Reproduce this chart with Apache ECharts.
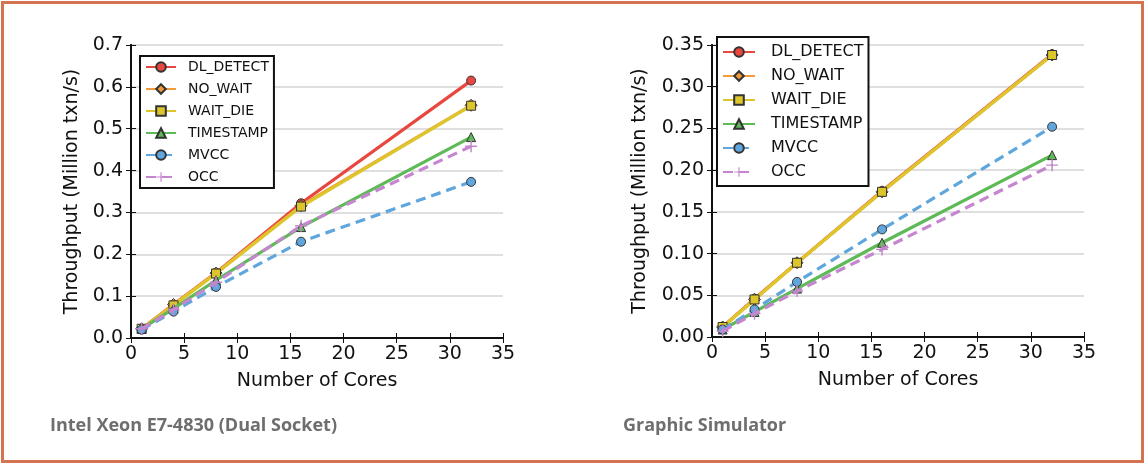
<!DOCTYPE html>
<html>
<head>
<meta charset="utf-8">
<script src="https://cdn.jsdelivr.net/npm/echarts@6/dist/echarts.min.js"></script>
<style>
  html, body { margin: 0; padding: 0; background: #fff; }
  #chart { position: absolute; left: 0; top: 0; width: 1147px; height: 463px; }
  #frame { position: absolute; left: 1px; top: 1px; width: 1137px; height: 456px; border: 3px solid #d4734f; pointer-events: none; }
</style>
</head>
<body>
<div id="chart"></div>
<div id="frame"></div>
<script>
// x values (number of cores)
const cores = [1, 4, 8, 16, 32]
const names = ['DL_DETECT', 'NO_WAIT', 'WAIT_DIE', 'TIMESTAMP', 'MVCC', 'OCC']

// Intel Xeon E7-4830 (Dual Socket)
const xeonDlDetect = [0.022, 0.080, 0.156, 0.322, 0.615]
const xeonNoWait = [0.022, 0.080, 0.155, 0.316, 0.556]
const xeonWaitDie = [0.022, 0.078, 0.154, 0.314, 0.555]
const xeonTimestamp = [0.022, 0.070, 0.138, 0.265, 0.480]
const xeonMvcc = [0.020, 0.063, 0.122, 0.230, 0.373]
const xeonOcc = [0.022, 0.068, 0.133, 0.268, 0.458]

// Graphic Simulator
const simDlDetect = [0.012, 0.046, 0.089, 0.175, 0.339]
const simNoWait = [0.012, 0.045, 0.089, 0.174, 0.338]
const simWaitDie = [0.012, 0.045, 0.089, 0.174, 0.338]
const simTimestamp = [0.009, 0.030, 0.058, 0.113, 0.218]
const simMvcc = [0.009, 0.033, 0.066, 0.129, 0.252]
const simOcc = [0.007, 0.028, 0.055, 0.105, 0.206]

const plus = 'path://M4.4,0 L5.6,0 L5.6,4.4 L10,4.4 L10,5.6 L5.6,5.6 L5.6,10 L4.4,10 L4.4,5.6 L0,5.6 L0,4.4 L4.4,4.4 Z'
const styles = [
  { color: '#e8473f', symbol: 'circle', dashed: false },
  { color: '#f39a3c', symbol: 'diamond', dashed: false },
  { color: '#dcc62c', symbol: 'rect', dashed: false },
  { color: '#5eb957', symbol: 'triangle', dashed: false },
  { color: '#5ea6dc', symbol: 'circle', dashed: true },
  { color: '#c585cf', symbol: plus, dashed: true }
]

const font = 'DejaVu Sans'

function makeSeries(values, idx) {
  return values.map((vals, i) => {
    const s = styles[i]
    const isPlus = s.symbol === plus
    return {
      name: names[i],
      type: 'line',
      xAxisIndex: idx * 2,
      yAxisIndex: idx * 2,
      data: cores.map((c, k) => [c, vals[k]]),
      symbol: s.symbol,
      symbolSize: isPlus ? 12 : (s.symbol === 'diamond' ? 12 : 9),
      lineStyle: { color: s.color, width: 3.2, type: s.dashed ? [10, 6] : 'solid' },
      itemStyle: { color: s.color, borderColor: isPlus ? s.color : '#333', borderWidth: isPlus ? 0 : 1 },
      z: 10 + i
    }
  })
}

function axesFor(gridIndex, yMax, yStep, decimals) {
  const frame = { show: true, lineStyle: { color: '#111', width: 2 } }
  const xs = [
    { type: 'value', gridIndex, min: 0, max: 35, interval: 5, position: 'bottom',
      axisLine: frame, axisTick: { inside: true, length: 5, lineStyle: { color: '#111' } },
      axisLabel: { color: '#111', fontSize: 19, fontFamily: font, margin: 7 },
      splitLine: { show: false },
      name: 'Number of Cores', nameLocation: 'middle', nameGap: 34,
      nameTextStyle: { color: '#111', fontSize: 19, fontFamily: font } },
    { type: 'value', gridIndex, min: 0, max: 35, interval: 5, position: 'top',
      axisLine: frame, axisTick: { inside: true, length: 5, lineStyle: { color: '#111' } },
      axisLabel: { show: false }, splitLine: { show: false } }
  ]
  const ys = [
    { type: 'value', gridIndex, min: 0, max: yMax, interval: yStep, position: 'left',
      axisLine: frame, axisTick: { inside: true, length: 5, lineStyle: { color: '#111' } },
      axisLabel: { color: '#111', fontSize: 19, fontFamily: font, margin: 8, formatter: v => v.toFixed(decimals) },
      splitLine: { show: true, lineStyle: { color: '#d4d4d4', width: 1.5 } },
      name: 'Throughput (Million txn/s)', nameLocation: 'middle', nameGap: decimals === 1 ? 49 : 62,
      nameTextStyle: { color: '#111', fontSize: 19, fontFamily: font } },
    { type: 'value', gridIndex, min: 0, max: yMax, interval: yStep, position: 'right',
      axisLine: frame, axisTick: { inside: true, length: 5, lineStyle: { color: '#111' } },
      axisLabel: { show: false }, splitLine: { show: false } }
  ]
  return { xs, ys }
}

const left = axesFor(0, 0.7, 0.1, 1)
const right = axesFor(1, 0.35, 0.05, 2)

const legendBase = {
  orient: 'vertical',
  data: names,
  backgroundColor: '#fff',
  borderColor: '#111',
  borderWidth: 2,
  borderRadius: 0,
  itemHeight: 12,
  z: 20
}

const chart = echarts.init(document.getElementById('chart'))
chart.setOption({
  animation: false,
  title: [
    { text: 'Intel Xeon E7-4830 (Dual Socket)', left: 45, top: 412,
      textStyle: { color: '#6e6e6e', fontSize: 18, fontWeight: 'bold', fontFamily: 'Open Sans' } },
    { text: 'Graphic Simulator', left: 618, top: 412,
      textStyle: { color: '#6e6e6e', fontSize: 18, fontWeight: 'bold', fontFamily: 'Open Sans' } }
  ],
  legend: [
    Object.assign({}, legendBase, {
      left: 140, top: 56, itemGap: 8, itemWidth: 30, padding: [4, 5, 4, 5],
      textStyle: { color: '#111', fontSize: 14, fontFamily: font, padding: [0, 0, 0, 7] }
    }),
    Object.assign({}, legendBase, {
      left: 717, top: 37, itemGap: 8, itemWidth: 32, padding: [7, 5, 6, 5],
      textStyle: { color: '#111', fontSize: 16, fontFamily: font, padding: [0, 0, 0, 11] }
    })
  ],
  grid: [
    { left: 131, top: 45, width: 372, height: 293 },
    { left: 712, top: 45, width: 372, height: 292 }
  ],
  xAxis: left.xs.concat(right.xs),
  yAxis: left.ys.concat(right.ys),
  series: makeSeries([xeonDlDetect, xeonNoWait, xeonWaitDie, xeonTimestamp, xeonMvcc, xeonOcc], 0)
    .concat(makeSeries([simDlDetect, simNoWait, simWaitDie, simTimestamp, simMvcc, simOcc], 1))
})
</script>
</body>
</html>
